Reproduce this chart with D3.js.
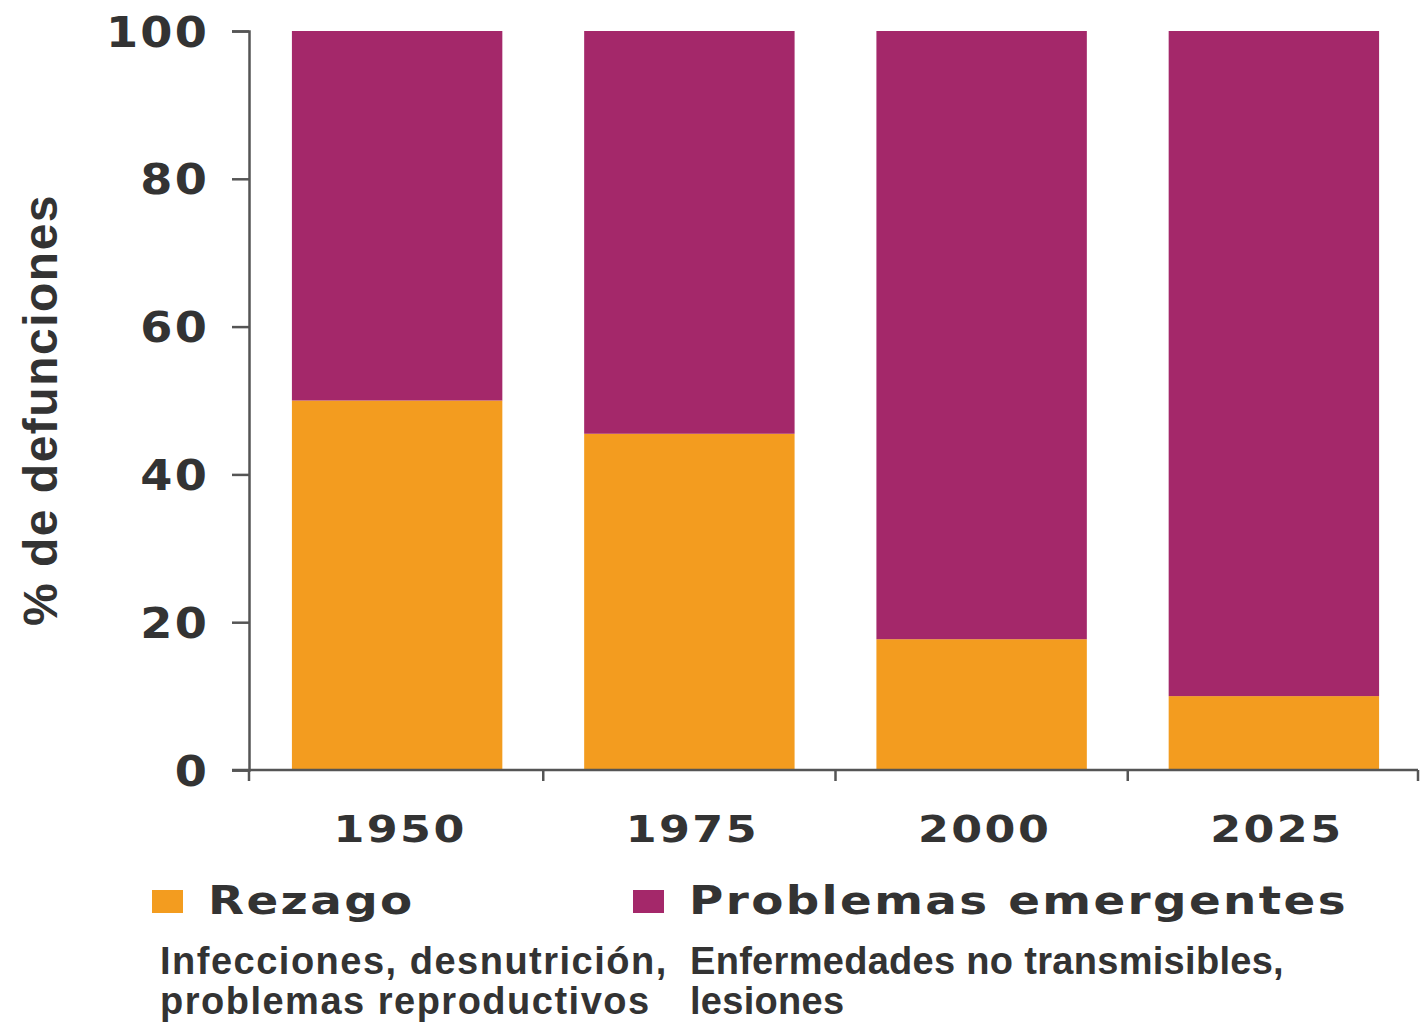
<!DOCTYPE html>
<html><head><meta charset="utf-8">
<script src="https://cdn.jsdelivr.net/npm/d3@7"></script>
<style>body{margin:0;background:#fff}</style>
</head><body>
<svg id="c" width="1420" height="1026"></svg>
<script>
const years = ["1950","1975","2000","2025"];
const rezago = [50, 45.5, 17.7, 10];
const emergentes = [50, 54.5, 82.3, 90];
const yTicks = [0,20,40,60,80,100];
const seriesNames = ["Rezago","Problemas emergentes"];
const seriesDesc = [["Infecciones, desnutrición,","problemas reproductivos"],["Enfermedades no transmisibles,","lesiones"]];
const colors = ["#F39C1F","#A4286A"];

const svg = d3.select("#c");
const x = d3.scaleBand().domain(years).range([251,1420]).paddingInner(0.28).paddingOuter(0.14);
const y = d3.scaleLinear().domain([0,100]).range([770,31]);
const textCol = "#333";
const axisCol = "#555";
const wide = "'DejaVu Sans', sans-serif";

const data = years.map((yr,i)=>({year:yr, rezago:rezago[i], emergentes:emergentes[i]}));
const stack = d3.stack().keys(["rezago","emergentes"])(data);
svg.append("g").selectAll("g").data(stack).join("g").attr("fill",(d,i)=>colors[i])
  .selectAll("rect").data(d=>d).join("rect")
  .attr("x",d=>x(d.data.year)).attr("width",x.bandwidth())
  .attr("y",d=>y(d[1])).attr("height",d=>y(d[0])-y(d[1]));

// y axis
const ya = svg.append("g").attr("transform","translate(249,0)")
  .call(d3.axisLeft(y).tickValues(yTicks).tickSize(17).tickPadding(25));
ya.select(".domain").attr("stroke",axisCol).attr("stroke-width",2.5);
ya.selectAll(".tick line").attr("stroke",axisCol).attr("stroke-width",2.5);
const ysx = 1.1;
ya.selectAll(".tick text").attr("fill",textCol).style("font-family",wide)
  .style("font-weight","bold").style("font-size","42px").style("letter-spacing","2px").attr("dy","0.36em")
  .attr("x", function(){ return (+d3.select(this).attr("x")+2)/ysx; })
  .attr("transform",`scale(${ysx},1)`);

// x axis
const bounds = [249].concat(years.slice(0,-1).map(d=>x(d)+x.bandwidth()+(x.step()-x.bandwidth())/2)).concat([1418]);
const xa = svg.append("g");
xa.append("line").attr("x1",232).attr("x2",1418).attr("y1",770).attr("y2",770).attr("stroke",axisCol).attr("stroke-width",2.5);
xa.selectAll("line.t").data(bounds).join("line").attr("class","t")
  .attr("x1",d=>d).attr("x2",d=>d).attr("y1",770).attr("y2",781).attr("stroke",axisCol).attr("stroke-width",2.5);
xa.selectAll("g.xl").data(years).join("g").attr("class","xl")
  .attr("transform",d=>`translate(${x(d)+x.bandwidth()/2+3},842) scale(1.2,1)`)
  .append("text").attr("text-anchor","middle")
  .attr("fill",textCol).style("font-family",wide).style("font-weight","bold")
  .style("font-size","37px").style("letter-spacing","2px").text(d=>d);

// y title
svg.append("text").attr("transform","translate(57,410) rotate(-90)").attr("text-anchor","middle")
  .attr("fill",textCol).style("font-family","'Liberation Sans', Arial, sans-serif").style("font-weight","bold")
  .style("font-size","48px").style("letter-spacing","1.5px").text("% de defunciones");

// legend
const lx = [152, 633];
seriesNames.forEach((n,i)=>{
  svg.append("rect").attr("x",lx[i]).attr("y",890).attr("width",31).attr("height",23).attr("fill",colors[i]);
  svg.append("g").attr("transform",`translate(${lx[i]+56},914) scale(1.2,1)`)
    .append("text").attr("fill",textCol)
    .style("font-family",wide).style("font-weight","bold").style("font-size","39px")
    .style("letter-spacing","2px").text(n);
  seriesDesc[i].forEach((t,j)=>{
    svg.append("text").attr("x",lx[i]+8+(i?49:0)).attr("y",974+j*40).attr("fill",textCol)
      .style("font-family","'Liberation Sans', Arial, sans-serif").style("font-weight","bold")
      .style("font-size","38px").style("letter-spacing", i ? "0.3px" : "1.5px").text(t);
  });
});
</script>
</body></html>
